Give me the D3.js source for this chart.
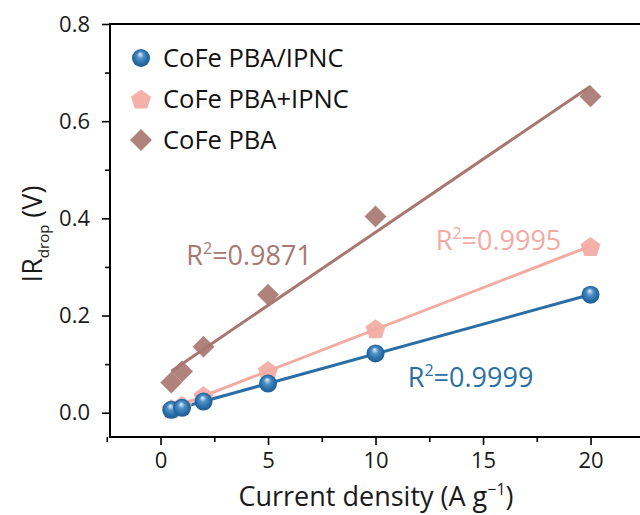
<!DOCTYPE html>
<html>
<head>
<meta charset="utf-8">
<script src="https://cdn.jsdelivr.net/npm/d3@7"></script>
<style>
  html, body { margin: 0; padding: 0; background: #fff; overflow: hidden; }
  svg { display: block; }
  text { font-family: "Open Sans", "Noto Sans", sans-serif; }
</style>
</head>
<body>
<svg id="chart" width="640" height="515"></svg>
<script>
// Current density (A g^-1) shared by all three samples
const currentDensity = [0.5, 1, 2, 5, 10, 20];

// IR drop (V) for each electrode
const irPbaIpnc = [0.006, 0.010, 0.023, 0.060, 0.122, 0.243];
const irPbaPlusIpnc = [0.008, 0.015, 0.035, 0.087, 0.173, 0.342];
const irPba = [0.062, 0.085, 0.136, 0.243, 0.404, 0.651];

const seriesNames = ["CoFe PBA/IPNC", "CoFe PBA+IPNC", "CoFe PBA"];
const r2Labels = ["0.9999", "0.9995", "0.9871"];

const xTicks = [0, 5, 10, 15, 20];
const xMinorTicks = [-2.5, 2.5, 7.5, 12.5, 17.5, 22.5];
const yTicks = [0.0, 0.2, 0.4, 0.6, 0.8];
const yMinorTicks = [0.1, 0.3, 0.5, 0.7];

const colors = { blue: "#2b6ea6", pink: "#f2aaa3", brown: "#a87770" };

(function () {
const svg = d3.select("#chart");

// Plot frame; the right side runs past the window edge
const plotLeft = 110, plotTop = 24, plotBottom = 437;
const x = d3.scaleLinear().domain([-2.35, 24.5]).range([plotLeft, plotLeft + 26.85 * 21.5]);
const y = d3.scaleLinear().domain([-0.05, 0.8]).range([plotBottom, plotTop]);

// defs: shaded sphere for the blue markers
const defs = svg.append("defs");
const grad = defs.append("radialGradient").attr("id", "sphere")
  .attr("cx", "50%").attr("cy", "50%").attr("r", "55%")
  .attr("fx", "45%").attr("fy", "28%");
grad.append("stop").attr("offset", "0%").attr("stop-color", "#e8f2fb");
grad.append("stop").attr("offset", "35%").attr("stop-color", "#4f8fc6");
grad.append("stop").attr("offset", "75%").attr("stop-color", "#2469a3");
grad.append("stop").attr("offset", "100%").attr("stop-color", "#1c5a8e");

// Least-squares fit over the measured range
function fit(xs, ys) {
  const mx = d3.mean(xs), my = d3.mean(ys);
  let sxy = 0, sxx = 0;
  xs.forEach((v, i) => { sxy += (v - mx) * (ys[i] - my); sxx += (v - mx) * (v - mx); });
  const slope = sxy / sxx;
  const intercept = my - slope * mx;
  const x0 = d3.min(xs), x1 = d3.max(xs);
  return [[x0, intercept + slope * x0], [x1, intercept + slope * x1]];
}

// Drawn back to front: brown, pink, blue
const pba = { name: seriesNames[2], values: irPba, color: colors.brown, shape: "diamond", r2: r2Labels[2] };
const pbaPlus = { name: seriesNames[1], values: irPbaPlusIpnc, color: colors.pink, shape: "pentagon", r2: r2Labels[1] };
const pbaIpnc = { name: seriesNames[0], values: irPbaIpnc, color: colors.blue, shape: "sphere", r2: r2Labels[0] };
const series = [pba, pbaPlus, pbaIpnc];

const line = d3.line().x(d => x(d[0])).y(d => y(d[1]));

// Fit lines
series.forEach(s => {
  svg.append("path")
    .attr("d", line(fit(currentDensity, s.values)))
    .attr("fill", "none")
    .attr("stroke", s.color)
    .attr("stroke-width", 3);
});

function drawMarker(g, shape, color, cx, cy) {
  if (shape === "diamond") {
    g.append("path")
      .attr("d", d3.symbol().type(d3.symbolSquare).size(240)())
      .attr("transform", `translate(${cx},${cy}) rotate(45)`)
      .attr("fill", color).attr("opacity", 0.92);
  } else if (shape === "pentagon") {
    const pts = d3.range(5).map(i => {
      const a = -Math.PI / 2 + i * 2 * Math.PI / 5;
      return [cx + 10.5 * Math.cos(a), cy + 1 + 10.5 * Math.sin(a)];
    });
    g.append("polygon").attr("points", pts.map(p => p.join(",")).join(" "))
      .attr("fill", color).attr("opacity", 0.92);
  } else {
    g.append("circle").attr("cx", cx).attr("cy", cy).attr("r", 9)
      .attr("fill", "url(#sphere)");
  }
}

// Data markers
series.forEach(s => {
  const g = svg.append("g");
  currentDensity.forEach((cd, i) => drawMarker(g, s.shape, s.color, x(cd), y(s.values[i])));
});

// Axes
const axisG = svg.append("g").attr("stroke", "#000").attr("fill", "none");
axisG.append("line").attr("x1", plotLeft).attr("x2", 640).attr("y1", plotTop).attr("y2", plotTop).attr("stroke-width", 2);
axisG.append("line").attr("x1", plotLeft).attr("x2", 640).attr("y1", plotBottom).attr("y2", plotBottom).attr("stroke-width", 2);
axisG.append("line").attr("x1", plotLeft).attr("x2", plotLeft).attr("y1", plotTop - 1).attr("y2", plotBottom + 1).attr("stroke-width", 2);

svg.append("g").attr("transform", `translate(0,${plotBottom})`)
  .call(d3.axisBottom(x).tickValues(xTicks).tickFormat(d3.format("d")).tickSize(8).tickPadding(7));
svg.append("g").attr("transform", `translate(0,${plotBottom})`)
  .call(d3.axisBottom(x).tickValues(xMinorTicks).tickFormat("").tickSize(5));

svg.append("g").attr("transform", `translate(${plotLeft},0)`)
  .call(d3.axisLeft(y).tickValues(yTicks).tickFormat(d3.format(".1f")).tickSize(8).tickPadding(12));
svg.append("g").attr("transform", `translate(${plotLeft},0)`)
  .call(d3.axisLeft(y).tickValues(yMinorTicks).tickFormat("").tickSize(5));

svg.selectAll(".domain").remove();
svg.selectAll(".tick line").attr("stroke", "#000").attr("stroke-width", 1.6);
svg.selectAll(".tick text").attr("fill", "#1a1a1a").style("font-size", "22px");

// Axis titles
const xt = svg.append("text").attr("x", 376).attr("y", 506).attr("text-anchor", "middle")
  .style("font-size", "27px").attr("fill", "#1a1a1a");
xt.append("tspan").text("Current density (A g");
xt.append("tspan").attr("dy", -11).style("font-size", "16px").text("−1");
xt.append("tspan").attr("dy", 11).text(")");

const yt = svg.append("text").attr("transform", "translate(42,234) rotate(-90)")
  .attr("text-anchor", "middle").style("font-size", "27px").attr("fill", "#1a1a1a");
yt.append("tspan").text("IR");
yt.append("tspan").attr("dy", 7).style("font-size", "15px").text("drop");
yt.append("tspan").attr("dy", -7).text(" (V)");

// Legend
const legendRows = [pbaIpnc, pbaPlus, pba];
legendRows.forEach((r, i) => {
  const cy = 58 + i * 41;
  const g = svg.append("g");
  drawMarker(g, r.shape, r.color, 141, cy);
  g.append("text").attr("x", 163).attr("y", cy + 9).style("font-size", "25.5px")
    .attr("fill", "#111").text(r.name);
});

// R² annotations
const r2Pos = [
  { s: pbaIpnc, xv: 11.5, yv: 0.053 },
  { s: pbaPlus, xv: 12.8, yv: 0.335 },
  { s: pba, xv: 1.2, yv: 0.305 }
];
r2Pos.forEach(p => {
  const t = svg.append("text").attr("x", x(p.xv)).attr("y", y(p.yv))
    .style("font-size", "27px").attr("fill", p.s.color);
  t.append("tspan").text("R");
  t.append("tspan").attr("dy", -11).style("font-size", "16px").text("2");
  t.append("tspan").attr("dy", 11).text("=" + p.s.r2);
});
})();
</script>
</body>
</html>
